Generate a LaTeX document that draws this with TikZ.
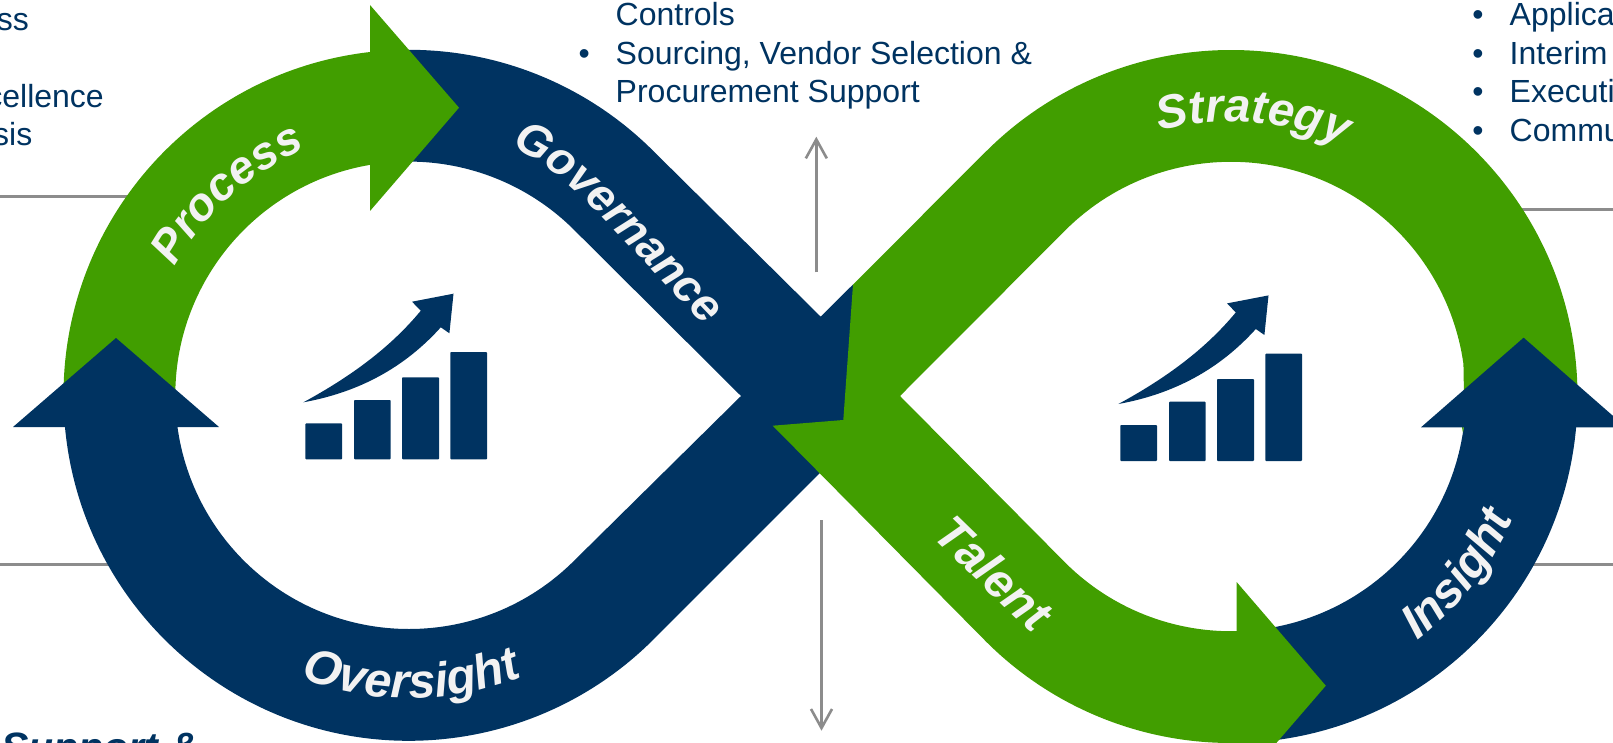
\documentclass[tikz,border=0pt]{standalone}
\usepackage{fontspec}
\setmainfont{Liberation Sans}
\usetikzlibrary{arrows.meta,decorations.text}
\definecolor{navy}{HTML}{003361}
\definecolor{leaf}{HTML}{419E00}
\definecolor{lbl}{HTML}{F2F2F2}
\definecolor{rulegray}{HTML}{8C8C8C}
\newcommand\lblfont[1]{\fontsize{#1}{#1}\selectfont\bfseries\itshape\color{lbl}}
\newcommand\chartico[1]{%
  \begin{scope}[shift={#1}]
    \fill[navy,rounded corners=0.8pt] (305.4,-459.3) rectangle (342,-423.3);
    \fill[navy,rounded corners=0.8pt] (354,-459.3) rectangle (390.6,-400);
    \fill[navy,rounded corners=0.8pt] (402,-459.3) rectangle (439,-377.3);
    \fill[navy,rounded corners=0.8pt] (450.4,-459.3) rectangle (487,-352);
    \fill[navy] (303.4,-402.3) .. controls (350,-377) and (390,-348) .. (420.8,-310.7)
      -- (412,-301.7) -- (453.5,-293.7) -- (449.4,-333.3) -- (440.8,-327.3)
      .. controls (405,-367) and (360,-392) .. (303.4,-402.3) -- cycle;
  \end{scope}}
\tikzset{
  bodytext/.style={text=navy,font=\fontsize{32}{32}\selectfont,inner sep=0pt,anchor=base west},
  bodyend/.style={text=navy,font=\fontsize{32}{32}\selectfont,inner sep=0pt,anchor=base east},
  bulletmark/.style={text=navy,font=\fontsize{32}{32}\selectfont,inner sep=0pt,anchor=base},
  rule/.style={draw=rulegray,line width=2.6pt},
  flowarrow/.style={draw=rulegray,line width=2.6pt,-{Straight Barb[length=19pt,width=21pt]}},
}
\begin{document}
\begin{tikzpicture}[x=1pt,y=1pt]
\useasboundingbox (0,-743) rectangle (1613,0);
\clip (0,-743) rectangle (1613,0);

% junction points
\coordinate (nTop) at (820.7,-316.7);
\coordinate (nExt) at (853,-349);
\coordinate (nLow) at (785,-441);
\coordinate (nLeft) at (741,-396);
\coordinate (ovEnd) at (860,-433);
\coordinate (gTop) at (853,-284.5);
\coordinate (gIn) at (843.3,-420);
\coordinate (gOut) at (772.7,-425.7);
\coordinate (gNotch) at (900,-396);

% rules
\coordinate (r1a) at (0,-196.7);   \coordinate (r1b) at (140,-196.7);
\coordinate (r2a) at (0,-564.7);   \coordinate (r2b) at (130,-564.7);
\coordinate (r3a) at (1613,-209.7);\coordinate (r3b) at (1500,-209.7);
\coordinate (r4a) at (1613,-564.7);\coordinate (r4b) at (1510,-564.7);
\draw[rule] (r1a) -- (r1b);
\draw[rule] (r2a) -- (r2b);
\draw[rule] (r3a) -- (r3b);
\draw[rule] (r4a) -- (r4b);

% vertical arrows
\coordinate (upS) at (816.3,-272.3); \coordinate (upE) at (816.3,-136.7);
\coordinate (dnS) at (821.5,-520);   \coordinate (dnE) at (821.5,-730.7);
\draw[flowarrow] (upS) -- (upE);
\draw[flowarrow] (dnS) -- (dnE);

% left loop
\begin{scope}[shift={(409,-395.3)}]
  \fill[navy] (96.5:345.5) arc[start angle=96.5,end angle=45,radius=345.5pt]
     -- (nTop) -- (nExt) -- (nLow) -- (nLeft)
     -- (45:233.7) arc[start angle=45,end angle=96.5,radius=233.7pt] -- cycle;
  \fill[navy] (185.3:345.5) arc[start angle=185.3,end angle=315,radius=345.5pt]
     -- (ovEnd) -- (gTop) -- (nLeft)
     -- (315:233.7) arc[start angle=315,end angle=187.8,radius=233.7pt] -- cycle;
  \fill[leaf] (180:345.5) arc[start angle=180,end angle=96.5,radius=345.5pt]
     -- (96.5:233.7) arc[start angle=96.5,end angle=180,radius=233.7pt] -- cycle;
\end{scope}
\fill[leaf] (370,-5) -- (459,-107.7) -- (370,-211) -- cycle;
\fill[navy] (13,-427) -- (116,-338) -- (219,-427) -- cycle;

% right loop
\begin{scope}[shift={(1231,-396.5)}]
  \fill[navy] (-4.6:346.5) arc[start angle=-4.6,end angle=-85,radius=346.5pt]
     -- (-85:234.7) arc[start angle=-85,end angle=-7.5,radius=234.7pt] -- cycle;
  \fill[leaf] (-1:346.5) arc[start angle=-1,end angle=135,radius=346.5pt]
     -- (gTop) -- (gIn) -- (gOut)
     -- (225:346.5) arc[start angle=225,end angle=272,radius=346.5pt]
     -- (272:234.7) arc[start angle=272,end angle=225,radius=234.7pt]
     -- (gNotch)
     -- (135:234.7) arc[start angle=135,end angle=8,radius=234.7pt]
     .. controls (234,-44) and (232,-58) .. (229,-0.5) -- cycle;
\end{scope}
\fill[leaf] (1236.6,-582) -- (1325.8,-685.7) -- (1236.6,-789) -- cycle;
\fill[navy] (1421,-427.3) -- (1523.6,-337.7) -- (1626,-427.3) -- cycle;

% chart icons
\chartico{(0,0)}
\chartico{(815,-1.7)}

% band labels
\path[decorate,decoration={text along path,text align=center,
   text={|\lblfont{46}|Process}}]
   (409,-395.3) ++(172:267) arc[start angle=172,end angle=92,radius=267pt];
\path[decorate,decoration={text along path,text align=left,
   text={|\lblfont{46}|Governance}}]
   (511,-146) .. controls (575,-175) and (630,-252) .. (740,-362);
\path[decorate,decoration={text along path,text align=center,
   text={|\lblfont{48.5}|Oversight}}]
   (409,-395.3) ++(230.5:303) arc[start angle=230.5,end angle=310.5,radius=303pt];
\path[decorate,decoration={text along path,text align=center,
   text={|\lblfont{47}|Strategy}}]
   (1231,-396.5) ++(125.4:275) arc[start angle=125.4,end angle=45.4,radius=275pt];
\path[decorate,decoration={text along path,text align=left,
   text={|\lblfont{48}|Talent}}]
   (931,-536) -- (1012.5,-615) arc[start angle=225,end angle=270,radius=309pt];
\path[decorate,decoration={text along path,text align=center,
   text={|\lblfont{48}|Insight}}]
   (1231,-396.5) ++(282:307) arc[start angle=282,end angle=362,radius=307pt];

% body texts
\node[bodyend] (t1) at (29,-30.3) {ss};
\node[bodyend] (t2) at (104,-107.5) {cellence};
\node[bodyend] (t3) at (32.5,-145.5) {sis};
\node[bodytext,text=navy,font=\fontsize{41}{41}\selectfont\bfseries\itshape] (t4) at (1,-761) {Support \&};
\node[bodytext] (m1) at (615.5,-26) {Controls};
\node[bulletmark] (mb) at (584.3,-64.5) {•};
\node[bodytext] (m2) at (615.5,-64.5) {Sourcing, Vendor Selection \&};
\node[bodytext] (m3) at (615.5,-102.5) {Procurement Support};
\node[bulletmark] (rb1) at (1478,-26) {•};
\node[bodytext] (r1) at (1509.5,-26) {Applica};
\node[bulletmark] (rb2) at (1478,-64.5) {•};
\node[bodytext] (r2) at (1509.5,-64.5) {Interim};
\node[bulletmark] (rb3) at (1478,-103) {•};
\node[bodytext] (r3) at (1509.5,-103) {Executi};
\node[bulletmark] (rb4) at (1478,-141.5) {•};
\node[bodytext] (r4) at (1509.5,-141.5) {Commu};
\end{tikzpicture}
\end{document}
